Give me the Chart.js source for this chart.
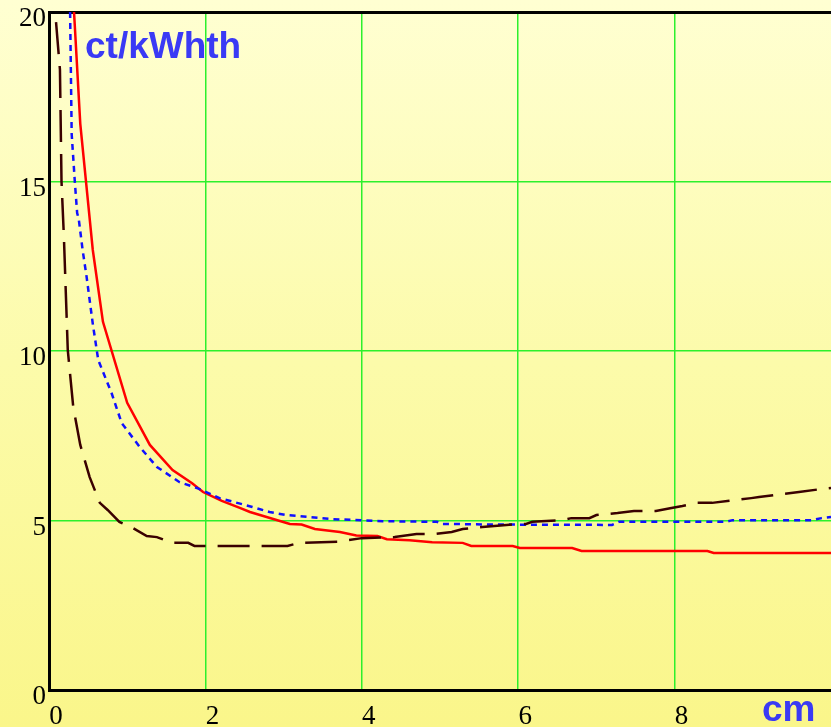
<!DOCTYPE html>
<html>
<head>
<meta charset="utf-8">
<script src="https://cdn.jsdelivr.net/npm/chart.js@4"></script>
<style>
  html, body { margin: 0; padding: 0; }
  body {
    width: 831px; height: 727px; overflow: hidden; position: relative;
    background: linear-gradient(to bottom, #ffffd2 0%, #fcfbaa 50%, #faf68a 100%);
  }
  #chart { position: absolute; left: 0; top: 0; }
  .lbl {
    position: absolute; font-family: "Liberation Sans", Arial, sans-serif;
    font-weight: bold; font-size: 37px; line-height: 37px; color: #3a3af5;
    white-space: nowrap;
  }
</style>
</head>
<body>
<canvas id="chart" width="831" height="727"></canvas>
<div class="lbl" style="left:85px; top:27px;">ct/kWhth</div>
<div class="lbl" style="left:762px; top:690px;">cm</div>
<script>
// curves (x in cm, y in ct/kWhth)
const redX = [0.32, 0.40, 0.56, 0.69, 1.0, 1.29, 1.58, 1.83, 1.97, 2.21, 2.44, 2.57, 3.08, 3.23, 3.4, 3.72, 3.93, 4.2, 4.32, 4.61, 4.9, 5.29, 5.4, 5.93, 6.02, 6.69, 6.81, 8.42, 8.5, 10];
const redY = [20, 16.7, 12.98, 10.86, 8.47, 7.23, 6.49, 6.1, 5.84, 5.58, 5.37, 5.25, 4.9, 4.88, 4.75, 4.66, 4.56, 4.54, 4.45, 4.42, 4.36, 4.34, 4.25, 4.25, 4.19, 4.19, 4.1, 4.1, 4.04, 4.04];

const blueX = [0.27, 0.29, 0.33, 0.36, 0.38, 0.43, 0.48, 0.56, 0.63, 0.8, 0.93, 1.16, 1.38, 1.67, 1.89, 2.18, 2.6, 2.82, 3.04, 3.63, 4.27, 4.96, 5.02, 5.72, 7.2, 7.29, 8.66, 8.74, 9.76, 9.88, 10];
const blueY = [20, 16.4, 15, 14.07, 13.9, 12.98, 12.2, 10.8, 9.73, 8.76, 7.87, 7.17, 6.58, 6.13, 5.96, 5.66, 5.4, 5.25, 5.16, 5.04, 4.98, 4.96, 4.9, 4.88, 4.87, 4.96, 4.96, 5.01, 5.01, 5.07, 5.1];

const brownX = [0.09, 0.14, 0.16, 0.19, 0.24, 0.31, 0.4, 0.52, 0.65, 0.75, 0.9, 1.07, 1.25, 1.38, 1.57, 1.78, 1.86, 3.05, 3.2, 3.69, 4.0, 4.42, 4.7, 4.93, 5.15, 5.29, 5.54, 5.85, 6.1, 6.18, 6.56, 6.68, 6.91, 7.0, 7.27, 7.48, 7.76, 7.96, 8.1, 8.28, 8.48, 8.7, 8.98, 9.08, 9.37, 9.59, 9.88, 10];
const brownY = [19.7, 18.3, 15, 13.4, 10.03, 8.35, 7.23, 6.28, 5.52, 5.31, 4.96, 4.78, 4.54, 4.51, 4.34, 4.34, 4.25, 4.25, 4.34, 4.37, 4.48, 4.51, 4.6, 4.6, 4.66, 4.75, 4.81, 4.87, 4.9, 4.96, 5.01, 5.07, 5.07, 5.16, 5.22, 5.28, 5.28, 5.37, 5.43, 5.52, 5.52, 5.58, 5.66, 5.69, 5.78, 5.84, 5.93, 5.96];

const xTicks = [0, 2, 4, 6, 8];
const yTicks = [0, 5, 10, 15, 20];

const pts = (xs, ys) => xs.map((x, i) => ({ x: x, y: ys[i] }));

const tickFont = { family: '"Liberation Serif", "Times New Roman", serif', size: 27 };
const gridGreen = '#2cf02c';

new Chart(document.getElementById('chart'), {
    type: 'line',
    data: {
        datasets: [
            {
                data: pts(brownX, brownY),
                borderColor: '#3a0000',
                borderWidth: 2.5,
                borderDash: [32, 12],
                pointRadius: 0,
                tension: 0
            },
            {
                data: pts(blueX, blueY),
                borderColor: '#1010ff',
                borderWidth: 2.5,
                borderDash: [6, 5],
                pointRadius: 0,
                tension: 0
            },
            {
                data: pts(redX, redY),
                borderColor: '#ff0000',
                borderWidth: 2.5,
                pointRadius: 0,
                tension: 0
            }
        ]
    },
    options: {
        responsive: false,
        animation: false,
        layout: { padding: { top: 12, right: 0, left: 0, bottom: 0 } },
        plugins: { legend: { display: false }, tooltip: { enabled: false } },
        scales: {
            x: {
                type: 'linear',
                min: 0,
                max: 10,
                afterBuildTicks: (scale) => { scale.ticks = xTicks.concat([10]).map(v => ({ value: v })); },
                afterFit: (scale) => {
                    scale.height = 37;
                    scale.paddingLeft = 0;
                    scale.paddingRight = 0;
                },
                ticks: {
                    font: tickFont,
                    color: '#000',
                    padding: 11,
                    labelOffset: 7,
                    maxRotation: 0,
                    autoSkip: false,
                    callback: (v) => xTicks.includes(v) ? String(v) : ''
                },
                grid: {
                    drawTicks: false,
                    color: (ctx) => (ctx.tick && ctx.tick.value === 10) ? 'rgba(0,0,0,0)' : gridGreen,
                    lineWidth: 1.5
                },
                border: { display: true, color: '#000', width: 3 }
            },
            y: {
                min: 0,
                max: 20,
                afterBuildTicks: (scale) => { scale.ticks = yTicks.map(v => ({ value: v })); },
                afterFit: (scale) => {
                    scale.width = 49;
                    scale.paddingTop = 0;
                    scale.paddingBottom = 0;
                },
                ticks: {
                    font: tickFont,
                    color: '#000',
                    padding: 3,
                    labelOffset: 7
                },
                grid: {
                    drawTicks: false,
                    color: (ctx) => (ctx.tick && ctx.tick.value === 20) ? '#000' : gridGreen,
                    lineWidth: (ctx) => (ctx.tick && ctx.tick.value === 20) ? 3 : 1.5
                },
                border: { display: true, color: '#000', width: 3 }
            }
        }
    }
});
</script>
</body>
</html>
